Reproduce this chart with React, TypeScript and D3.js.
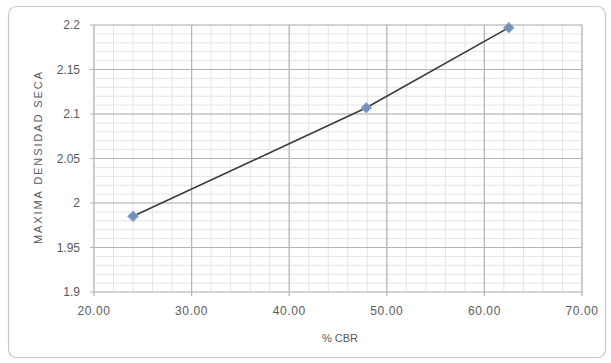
import React from "react";
import * as d3 from "d3";

const cbr = [24.0, 47.9, 62.5];
const density = [1.985, 2.107, 2.197];
const xTicks = [20, 30, 40, 50, 60, 70];
const yTicks = [1.9, 1.95, 2.0, 2.05, 2.1, 2.15, 2.2];
const yTickLabels = ["1.9", "1.95", "2", "2.05", "2.1", "2.15", "2.2"];
const xTitle = "% CBR";
const yTitle = "MAXIMA DENSIDAD SECA";

const W = 611, H = 363;
const left = 94, right = 582, top = 25, bottom = 292;

export default function App() {
  const x = d3.scaleLinear().domain([20, 70]).range([left, right]);
  const y = d3.scaleLinear().domain([1.9, 2.2]).range([bottom, top]);
  const xMinor = d3.range(20, 70.001, 2);
  const yMinor = d3.range(0, 31).map((i) => 1.9 + i * 0.01);
  const line = d3.line<number>().x((d, i) => x(cbr[i])).y((d) => y(d));
  const font = "'Liberation Sans', Arial, sans-serif";
  const txt = "#5a5a5a";
  return (
    <svg width={W} height={H} style={{ position: "absolute", left: 0, top: 0, background: "#fff" }}>
      <rect x={8.5} y={6.5} width={597} height={351} rx={8} fill="#fff" stroke="#c8c8c8" strokeWidth={1.2} />
      {yMinor.map((v, i) => (
        <line key={"ym" + i} x1={left} x2={right} y1={y(v)} y2={y(v)} stroke="#e4e4e4" strokeWidth={1} />
      ))}
      {xMinor.map((v, i) => (
        <line key={"xm" + i} x1={x(v)} x2={x(v)} y1={top} y2={bottom} stroke="#e4e4e4" strokeWidth={1} />
      ))}
      {yTicks.map((v, i) => (
        <line key={"yM" + i} x1={left - 4} x2={right} y1={y(v)} y2={y(v)} stroke="#b4b4b4" strokeWidth={1.2} />
      ))}
      {xTicks.map((v, i) => (
        <line key={"xM" + i} x1={x(v)} x2={x(v)} y1={top} y2={bottom + 4} stroke="#b4b4b4" strokeWidth={1.2} />
      ))}
      <path d={line(density) || ""} fill="none" stroke="#3a3a3a" strokeWidth={1.6} />
      {density.map((v, i) => (
        <path
          key={"p" + i}
          d={d3.symbol(d3.symbolDiamond2, 70)() || ""}
          transform={`translate(${x(cbr[i])},${y(v)})`}
          fill="#7392bd"
          stroke="#8aa6cc"
          strokeWidth={1}
        />
      ))}
      {yTicks.map((v, i) => (
        <text key={"yl" + i} x={80} y={y(v)} dy="0.35em" textAnchor="end" fontFamily={font} fontSize={12} fill={txt}>
          {yTickLabels[i]}
        </text>
      ))}
      {xTicks.map((v, i) => (
        <text key={"xl" + i} x={x(v)} y={311} dy="0.35em" textAnchor="middle" fontFamily={font} fontSize={12} fill={txt} letterSpacing={0.6}>
          {v.toFixed(2)}
        </text>
      ))}
      <text x={340} y={338} dy="0.35em" textAnchor="middle" fontFamily={font} fontSize={11} fill={txt}>
        {xTitle}
      </text>
      <text
        transform={`translate(38,158) rotate(-90)`}
        dy="0.35em"
        textAnchor="middle"
        fontFamily={font}
        fontSize={11}
        fill={txt}
        textLength={172}
        lengthAdjust="spacing"
      >
        {yTitle}
      </text>
    </svg>
  );
}
